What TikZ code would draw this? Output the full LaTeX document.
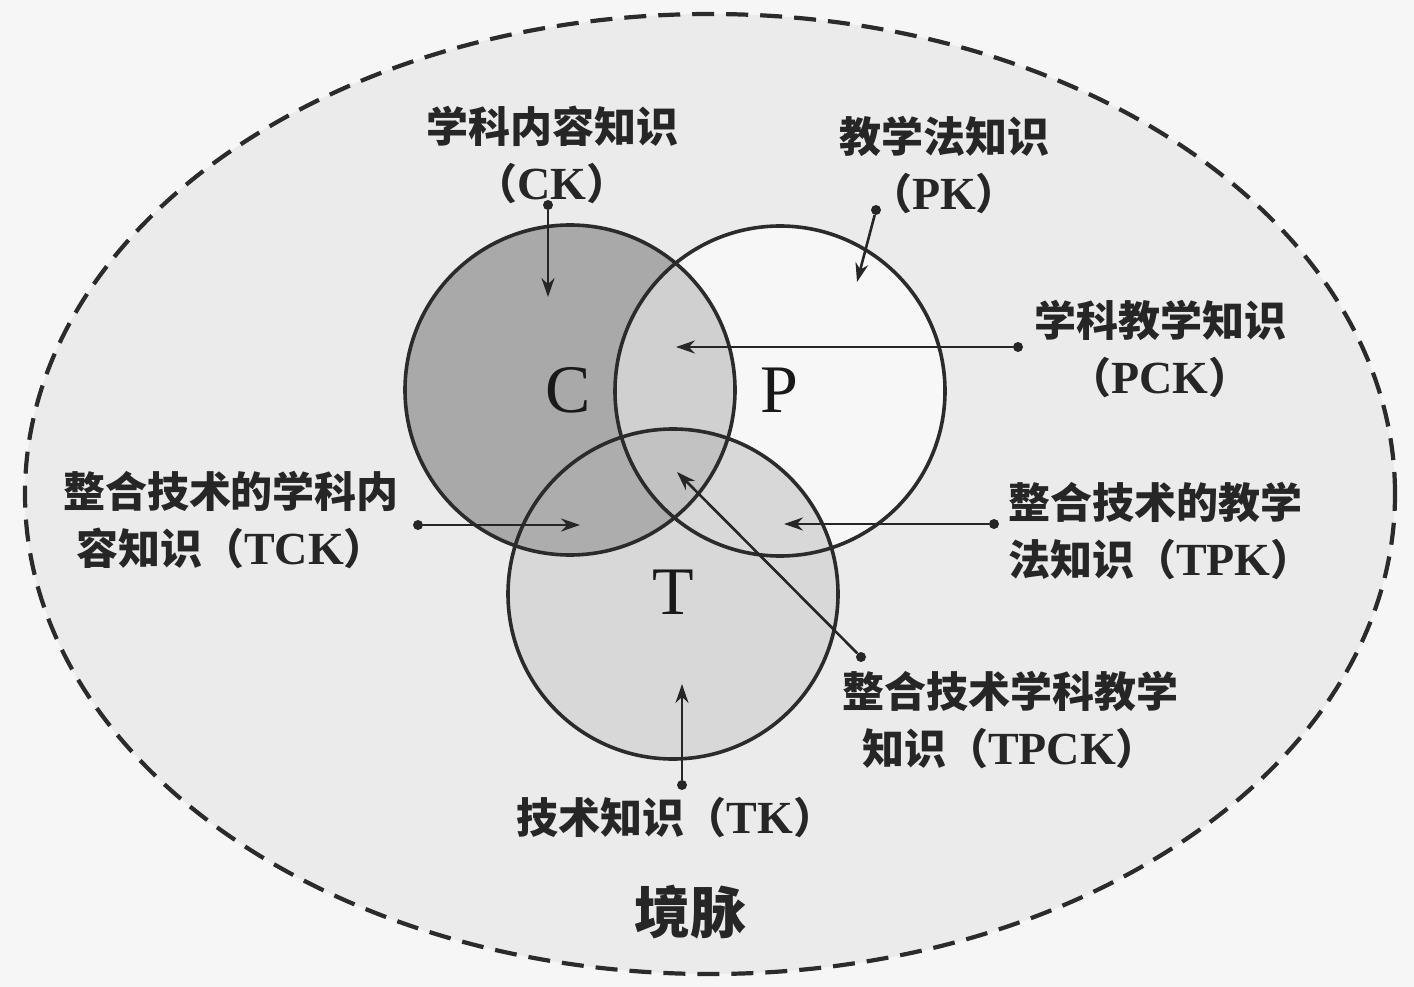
\documentclass[tikz,border=0pt]{standalone}
\usepackage{fontspec}
\setmainfont{Liberation Serif}
\newfontfamily\cjk{Noto Sans CJK SC}
\usetikzlibrary{arrows.meta}
\definecolor{ink}{HTML}{262626}
\definecolor{ringc}{HTML}{2B2B2B}
\definecolor{pagebg}{HTML}{F6F6F6}
\definecolor{ellbg}{HTML}{EBEBEB}
\definecolor{cfill}{HTML}{A9A9A9}
\definecolor{pfill}{HTML}{F7F7F7}
\definecolor{tfill}{HTML}{D8D8D8}
\definecolor{cpfill}{HTML}{D0D0D0}
\definecolor{ctfill}{HTML}{ADADAD}
\definecolor{cptfill}{HTML}{C2C2C2}
\newcommand\lat[1]{{\fontsize{46}{57}\rmfamily\bfseries #1}}
\tikzset{
  lbl/.style={font=\fontsize{42}{57}\cjk\bfseries\selectfont, text=ink, align=center, inner sep=0pt},
  ptr/.style={draw=ink, line width=2.6pt, -{Stealth[length=19pt,width=13pt]}},
  dotc/.style={circle, fill=ink, inner sep=0pt, minimum size=10pt},
  ring/.style={draw=ringc, line width=3.6pt},
  bigletter/.style={font=\fontsize{68}{68}\selectfont, text=black!90, inner sep=0pt}
}
\begin{document}
\begin{tikzpicture}[x=1pt,y=-1pt]
\useasboundingbox (0,0) rectangle (1414,987);
\fill[pagebg] (0,0) rectangle (1414,987);
% context ellipse
\filldraw[fill=ellbg, draw=ringc, line width=4.2pt, dash pattern=on 22pt off 12pt]
  (710,494) ellipse [x radius=685pt, y radius=480pt];
% circle centres
\coordinate (Cc) at (570,390);
\coordinate (Pc) at (780,391);
\coordinate (Tc) at (673,594);
\def\R{165pt}
\fill[cfill] (Cc) circle[radius=\R];
\fill[pfill] (Pc) circle[radius=\R];
\fill[tfill] (Tc) circle[radius=\R];
\begin{scope}
  \clip (Cc) circle[radius=\R];
  \fill[cpfill] (Pc) circle[radius=\R];
  \fill[ctfill] (Tc) circle[radius=\R];
  \clip (Pc) circle[radius=\R];
  \fill[cptfill] (Tc) circle[radius=\R];
\end{scope}
\draw[ring] (Cc) circle[radius=\R];
\draw[ring] (Pc) circle[radius=\R];
\draw[ring] (Tc) circle[radius=\R];
% letters
\node[bigletter] (C) at (568,390) {C};
\node[bigletter] (P) at (779,390) {P};
\node[bigletter] (T) at (673,592) {T};
% labels
\node[lbl] (ck) at (552,155) {学科内容知识\\（\lat{CK}）};
\node[lbl] (pk) at (944,165) {教学法知识\\（\lat{PK}）};
\node[lbl] (pck) at (1160,349) {学科教学知识\\（\lat{PCK}）};
\node[lbl] (tck) at (231,520) {整合技术的学科内\\容知识（\lat{TCK}）};
\node[lbl, align=left, anchor=west] (tpk) at (1008,531) {整合技术的教学\\法知识（\lat{TPK}）};
\node[lbl] (tpck) at (1010,720) {整合技术学科教学\\知识（\lat{TPCK}）};
\node[lbl] (tk) at (676,818) {技术知识（\lat{TK}）};
\node[lbl, font=\fontsize{56}{56}\cjk\bfseries\selectfont] (ctx) at (690,912) {境脉};
% pointer dots and tips
\node[dotc] (dck) at (548,205) {};
\coordinate (tipck) at (548,297);
\node[dotc] (dpk) at (876,210) {};
\coordinate (tippk) at (857,282);
\node[dotc] (dpck) at (1018,347) {};
\coordinate (tippck) at (676,347);
\node[dotc] (dtck) at (418,525) {};
\coordinate (tiptck) at (580,525);
\node[dotc] (dtpk) at (994,524) {};
\coordinate (tiptpk) at (784,524);
\node[dotc] (dtpck) at (861,657) {};
\coordinate (tiptpck) at (677,472);
\node[dotc] (dtk) at (682,785) {};
\coordinate (tiptk) at (682,684);
\draw[ptr] (dck) -- (tipck);
\draw[ptr] (dpk) -- (tippk);
\draw[ptr] (dpck) -- (tippck);
\draw[ptr] (dtck) -- (tiptck);
\draw[ptr] (dtpk) -- (tiptpk);
\draw[ptr] (dtpck) -- (tiptpck);
\draw[ptr] (dtk) -- (tiptk);
\end{tikzpicture}
\end{document}
